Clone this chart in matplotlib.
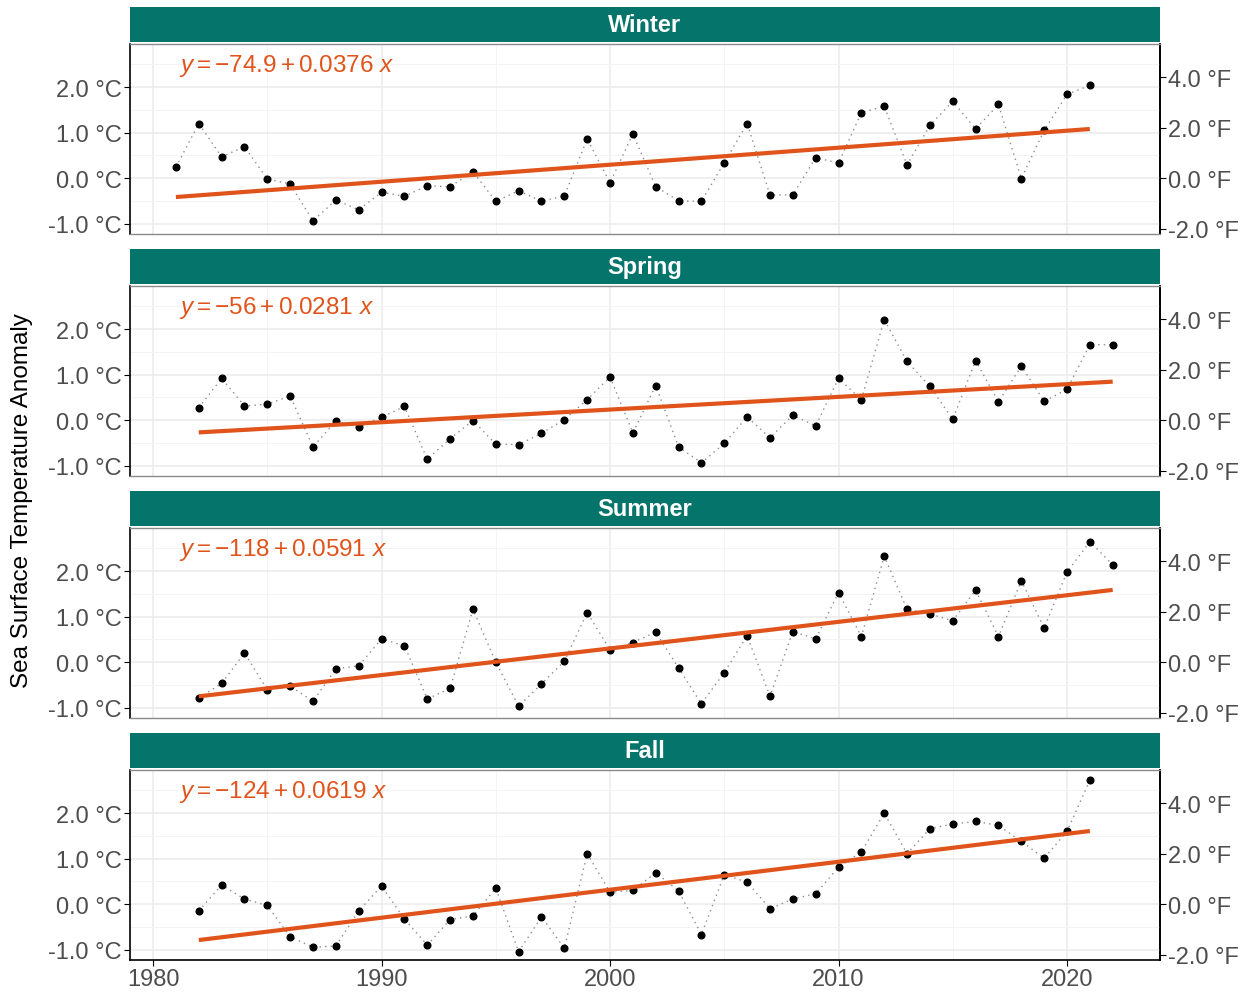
import numpy as np
import matplotlib
matplotlib.use('Agg')
from matplotlib import pyplot as plt
from matplotlib.ticker import MultipleLocator, FixedLocator, FuncFormatter

plt.rcParams['font.family'] = ['Liberation Sans', 'DejaVu Sans']
plt.rcParams['mathtext.fontset'] = 'custom'
plt.rcParams['mathtext.rm'] = 'Liberation Sans'
plt.rcParams['mathtext.it'] = 'Liberation Sans:italic'

# данные
seasons = ['Winter', 'Spring', 'Summer', 'Fall']
equations = ['$y = -74.9 + 0.0376\\ x$',
             '$y = -56 + 0.0281\\ x$',
             '$y = -118 + 0.0591\\ x$',
             '$y = -124 + 0.0619\\ x$']

winter_years = list(range(1981, 2022))
winter = [0.24, 1.20, 0.47, 0.69, -0.02, -0.13, -0.94, -0.48, -0.70, -0.31,
          -0.40, -0.17, -0.19, 0.14, -0.51, -0.28, -0.51, -0.39, 0.86, -0.10,
          0.97, -0.19, -0.50, -0.51, 0.34, 1.20, -0.37, -0.37, 0.45, 0.33,
          1.44, 1.58, 0.29, 1.16, 1.69, 1.08, 1.62, -0.01, 1.05, 1.84, 2.04]

spring_years = list(range(1982, 2023))
spring = [0.27, 0.92, 0.31, 0.35, 0.53, -0.59, -0.02, -0.15, 0.06, 0.30,
          -0.86, -0.41, -0.01, -0.53, -0.54, -0.29, 0.01, 0.45, 0.95, -0.28,
          0.76, -0.59, -0.94, -0.51, 0.07, -0.39, 0.11, -0.13, 0.92, 0.45,
          2.21, 1.29, 0.74, 0.02, 1.31, 0.40, 1.19, 0.41, 0.68, 1.66, 1.66]

summer_years = list(range(1982, 2023))
summer = [-0.79, -0.47, 0.20, -0.61, -0.53, -0.86, -0.15, -0.08, 0.51, 0.36,
          -0.81, -0.58, 1.16, 0.00, -0.97, -0.48, 0.02, 1.09, 0.27, 0.43,
          0.66, -0.13, -0.92, -0.23, 0.58, -0.75, 0.67, 0.51, 1.53, 0.56,
          2.33, 1.16, 1.06, 0.91, 1.58, 0.56, 1.79, 0.75, 1.98, 2.65, 2.14]

fall_years = list(range(1982, 2022))
fall = [-0.15, 0.42, 0.11, -0.03, -0.72, -0.95, -0.92, -0.15, 0.40, -0.33,
        -0.90, -0.34, -0.26, 0.35, -1.05, -0.28, -0.97, 1.11, 0.26, 0.30,
        0.69, 0.29, -0.67, 0.65, 0.48, -0.10, 0.11, 0.23, 0.81, 1.15,
        2.00, 1.11, 1.66, 1.76, 1.82, 1.73, 1.38, 1.01, 1.60, 2.72]

all_years = [winter_years, spring_years, summer_years, fall_years]
all_vals = [winter, spring, summer, fall]

c_ticks = [-1, 0, 1, 2]
f_ticks = [-2, 0, 2, 4]
x_ticks = [1980, 1990, 2000, 2010, 2020]

teal = '#05756B'
orange = '#E0541B'
txt_gray = '#4D4D4D'

W, H = 1247, 995
fig = plt.figure(figsize=(W / 100, H / 100), dpi=100)

# пиксели панелей (верх, низ)
panel_px = [(45, 235), (287, 477), (529, 719), (771, 961)]
x0, x1 = 130, 1160

for i in range(4):
    top, bot = panel_px[i]
    ax = fig.add_axes([x0 / W, 1 - bot / H, (x1 - x0) / W, (bot - top) / H])
    yrs = np.array(all_years[i])
    vals = np.array(all_vals[i])

    ax.plot(yrs, vals, color='#8C8C8C', lw=1, ls=(0, (1, 3)), zorder=2)
    ax.plot(yrs, vals, 'o', color='black', ms=4.8, zorder=3)
    b, a = np.polyfit(yrs, vals, 1)
    ax.plot(yrs[[0, -1]], a + b * yrs[[0, -1]], color=orange, lw=3, zorder=4,
            solid_capstyle='butt')
    ax.text(0.048, 0.89, equations[i], transform=ax.transAxes, color=orange,
            fontsize=17.5, va='center', ha='left')

    ax.set_xlim(1978.99, 2024.07)
    ax.set_ylim(-1.23, 2.95)
    ax.xaxis.set_major_locator(FixedLocator(x_ticks))
    ax.xaxis.set_minor_locator(MultipleLocator(5))
    ax.yaxis.set_major_locator(FixedLocator(c_ticks))
    ax.yaxis.set_minor_locator(MultipleLocator(0.5))
    ax.grid(which='major', color='#EBEBEB', lw=1.1, zorder=0)
    ax.grid(which='minor', color='#F4F4F4', lw=0.7, zorder=0)
    ax.set_axisbelow(True)
    ax.yaxis.set_major_formatter(FuncFormatter(lambda v, p: '%.1f °C' % v))
    ax.tick_params(axis='y', which='major', length=4, color='black',
                   labelsize=17, labelcolor=txt_gray, pad=2)
    ax.tick_params(which='minor', length=0)
    if i < 3:
        ax.tick_params(axis='x', which='major', length=0, labelbottom=False)
    else:
        ax.tick_params(axis='x', which='major', length=4, color='black',
                       labelsize=17, labelcolor=txt_gray, pad=2)

    for s in ['top', 'bottom']:
        ax.spines[s].set_color('#8A8A8A')
        ax.spines[s].set_linewidth(1)
    ax.spines['left'].set_color('black')
    ax.spines['right'].set_color('black')
    ax.spines['left'].set_linewidth(1.2)
    ax.spines['right'].set_linewidth(1.2)
    if i == 3:
        ax.spines['bottom'].set_color('black')
        ax.spines['bottom'].set_linewidth(1.2)

    # вторая ось в градусах Фаренгейта
    sec = ax.secondary_yaxis('right', functions=(lambda c: c * 1.8, lambda f: f / 1.8))
    sec.yaxis.set_major_locator(FixedLocator(f_ticks))
    sec.yaxis.set_minor_locator(FixedLocator([]))
    sec.yaxis.set_major_formatter(FuncFormatter(lambda v, p: '%.1f °F' % v))
    sec.tick_params(length=4, color='black', labelsize=17, labelcolor=txt_gray, pad=2)
    sec.spines['right'].set_color('black')
    sec.spines['right'].set_linewidth(1.2)

    # заголовок панели
    sax = fig.add_axes([x0 / W, 1 - (top - 2) / H, (x1 - x0) / W, 35 / H])
    sax.set_facecolor(teal)
    sax.set_xticks([])
    sax.set_yticks([])
    for s in sax.spines.values():
        s.set_visible(False)
    sax.text(0.5, 0.5, seasons[i], transform=sax.transAxes, ha='center',
             va='center', color='white', fontsize=17, fontweight='bold')

fig.text(0.018, 0.497, 'Sea Surface Temperature Anomaly', rotation=90,
         ha='center', va='center', fontsize=17.5, color='black')

fig.savefig('out.png', dpi=100)
